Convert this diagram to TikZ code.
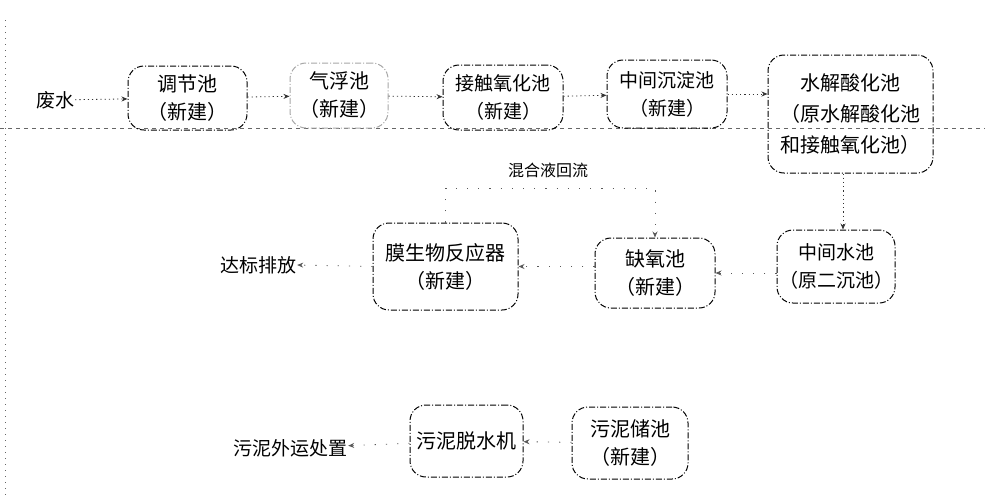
\documentclass[tikz,border=0pt]{standalone}
\usepackage{fontspec}
\setmainfont{Noto Sans CJK SC}
\usetikzlibrary{arrows.meta}
\tikzset{
  pool/.style={draw=black, line width=1pt, dash pattern=on 6pt off 2pt on 1pt off 2pt, rounded corners=16pt, align=center, inner sep=1pt, font=\fontsize{20}{28}\selectfont, text=black},
  faintpool/.style={pool, draw=black!35},
  lbl/.style={font=\fontsize{19}{24}\selectfont, text=black, inner sep=1pt},
  flow/.style={draw=black!80, line width=0.8pt, dash pattern=on 1.2pt off 3pt, -{Stealth[length=6pt,width=5pt]}},
  sparse/.style={draw=black!65, line width=0.8pt, dash pattern=on 1.2pt off 10pt, -{Stealth[length=6pt,width=5pt]}},
  artifact/.style={draw=black!60, line width=0.7pt, dash pattern=on 4pt off 4pt}
}
\begin{document}
\begin{tikzpicture}[x=1pt,y=-1pt]
\useasboundingbox (0,0) rectangle (987,499);
% scan guide lines
\draw[artifact] (0,128) -- (985,128);
\draw[artifact, dash pattern=on 1pt off 5pt] (5,20) -- (5,495);
% top row
\node[lbl] (fs) at (55,100) {废水};
\node[pool, minimum width=119pt, minimum height=64pt] (tj) at (187.5,98) {调节池\\（新建）};
\node[faintpool, minimum width=98pt, minimum height=65pt] (qf) at (339,95.5) {气浮池\\（新建）};
\node[pool, minimum width=120pt, minimum height=65pt, font=\fontsize{19}{28}\selectfont] (jc) at (503,97.5) {接触氧化池\\（新建）};
\node[pool, minimum width=120pt, minimum height=68pt, font=\fontsize{19}{28}\selectfont] (zc) at (667,94) {中间沉淀池\\（新建）};
\node[pool, minimum width=165pt, minimum height=118pt, font=\fontsize{20}{31}\selectfont] (sj) at (850.5,114) {水解酸化池\\（原水解酸化池\\和接触氧化池）};
% middle row
\node[pool, minimum width=118pt, minimum height=73pt, font=\fontsize{19}{28}\selectfont] (zs) at (836,266.5) {中间水池\\（原二沉池）};
\node[pool, minimum width=120pt, minimum height=70pt] (qy) at (655,273) {缺氧池\\（新建）};
\node[pool, minimum width=145pt, minimum height=87pt] (mbr) at (445.5,266.5) {膜生物反应器\\（新建）};
\node[lbl] (db) at (258,265) {达标排放};
\node[lbl, font=\fontsize{16}{20}\selectfont] (hl) at (548,170) {混合液回流};
% sludge row
\node[pool, minimum width=113pt, minimum height=72pt] (ts) at (466.5,441) {污泥脱水机};
\node[pool, minimum width=116pt, minimum height=72pt] (cc) at (630,443) {污泥储池\\（新建）};
\node[lbl] (wy) at (290,448) {污泥外运处置};
% connectors
\draw[flow] (fs) -- (tj);
\draw[flow] (tj) -- (qf);
\draw[flow] (qf) -- (jc);
\draw[flow] (jc) -- (zc);
\draw[flow] (zc.east) -- (sj.west |- zc.east);
\draw[flow] (sj.south -| zs.north) ++(7,0) coordinate (sjb) -- (sjb |- zs.north);
\draw[sparse] (zs.west |- qy.east) -- (qy.east);
\draw[sparse] (qy.west |- mbr.east) -- (mbr.east);
\draw[sparse] (mbr.west) -- (db.east);
\coordinate (r1) at (mbr.north |- 0,188);
\draw[sparse] (mbr.north) -- (r1) -| (qy.north);
\draw[sparse] (cc) -- (ts);
\draw[sparse] (ts) -- (wy);
\end{tikzpicture}
\end{document}
